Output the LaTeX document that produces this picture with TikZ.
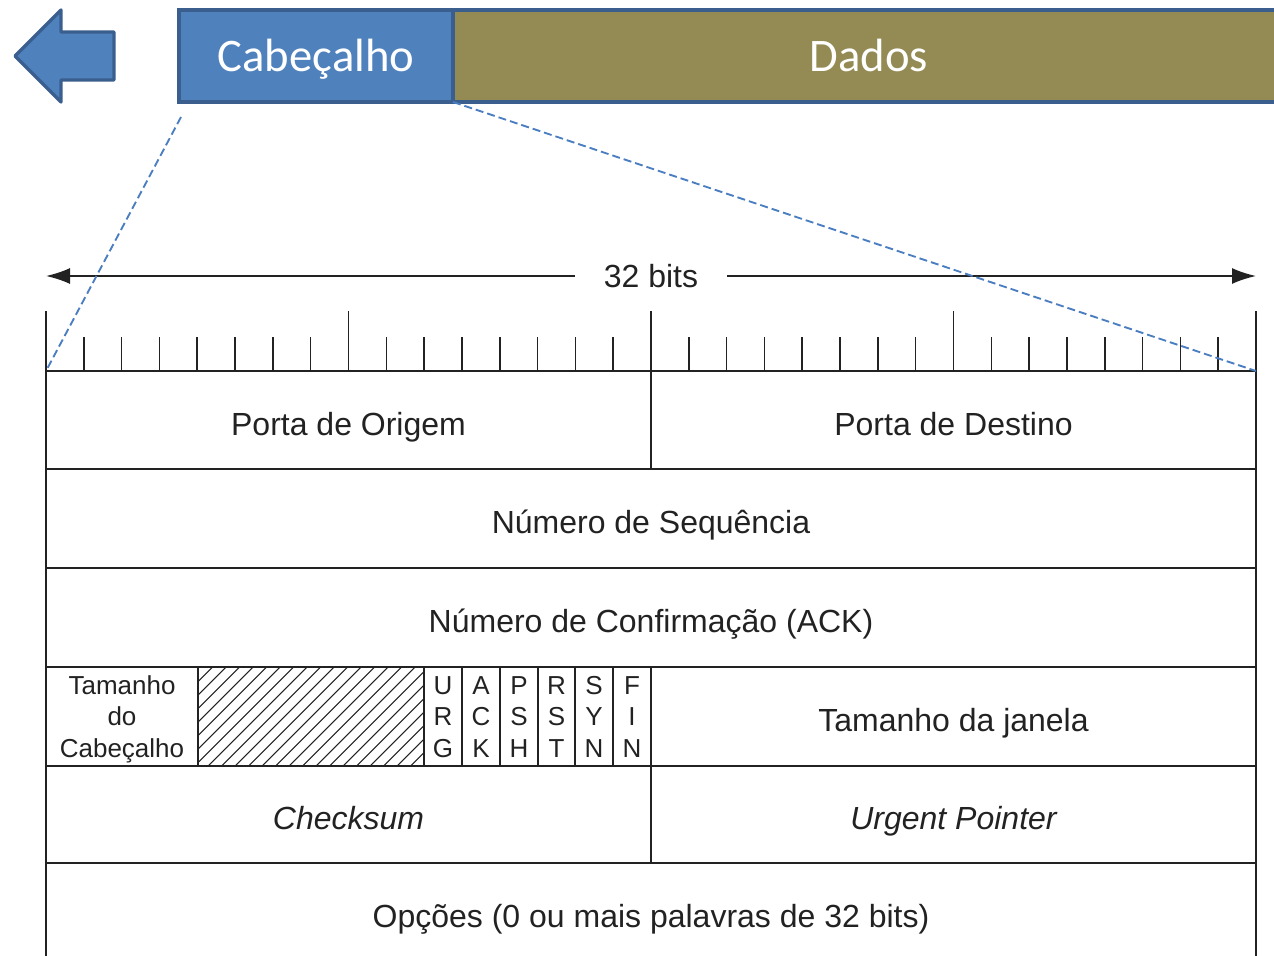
\documentclass[tikz,border=0pt]{standalone}
\usepackage{fontspec}
\setmainfont{Liberation Sans}
\newfontfamily\calib{Carlito}
\usetikzlibrary{arrows.meta}
\definecolor{hdrblue}{HTML}{4F81BD}
\definecolor{hdrline}{HTML}{3A5F8E}
\definecolor{olive}{HTML}{948A54}
\definecolor{ink}{HTML}{222222}
\definecolor{dashblue}{HTML}{4A7EC0}
\tikzset{
  bar/.style={draw=hdrline, line width=3pt, text=white, font=\calib\fontsize{35}{40}\selectfont},
  bartext/.style={text=white, font=\calib\fontsize{35}{40}\selectfont, inner sep=0pt, text height=22.5pt, text depth=0pt},
  grid/.style={draw=ink, line width=1.7pt},
  tick/.style={draw=ink, line width=1.2pt},
  lbl/.style={text=ink, font=\fontsize{24}{28}\selectfont, inner sep=0pt, text height=17.2pt, text depth=0pt},
  small/.style={text=ink, font=\fontsize{19.5}{22}\selectfont, inner sep=0pt, text height=14pt, text depth=0pt},
  zoomline/.style={draw=dashblue, line width=1.4pt, dash pattern=on 6pt off 3pt},
  dimarrow/.style={draw=ink, line width=1.3pt, -{Latex[length=18pt,width=12pt]}}
}
\begin{document}
\begin{tikzpicture}[x=0.75pt,y=-0.75pt]
\useasboundingbox (0,0) rectangle (1274,956);
% left arrow
\draw[bar, line width=2.5pt, fill=hdrblue, line join=round] (15,56) -- (61,10) -- (61,32) -- (114,32) -- (114,80) -- (61,80) -- (61,102) -- cycle;
% header bar
\path[bar, fill=olive] (453,10) rectangle (1280,102);
\node[bartext] (dados) at (869,57) {Dados};
\path[bar, fill=hdrblue] (179,10) rectangle (453,102);
\node[bartext] (cab) at (316,57) {Cabeçalho};
\coordinate (cabsw) at (453,102);
\coordinate (cabst) at (181,117);
% 32 bits arrow
\node[lbl] (bits) at (651,276) {32 bits};
\coordinate (al) at (46,276);
\coordinate (ar) at (1256,276);
\draw[dimarrow] (575,276) -- (al);
\draw[dimarrow] (727,276) -- (ar);
% ticks
\foreach \i in {1,...,31} {
  \pgfmathsetmacro{\xx}{46+\i*37.8125}
  \draw[tick] (\xx,337) -- (\xx,371);
}
\foreach \xx in {348.5,651,953.5} {\draw[tick] (\xx,311) -- (\xx,371);}
% grid
\draw[grid] (46,311) -- (46,960);
\draw[grid] (1256,311) -- (1256,960);
\foreach \yy in {371,469,568,667,766,863} {\draw[grid] (46,\yy) -- (1256,\yy);}
\draw[grid] (651,371) -- (651,469);
\draw[grid] (651,667) -- (651,863);
\foreach \xx in {198,424,462,500,538,575,613} {\draw[grid, line width=1.4pt] (\xx,667) -- (\xx,766);}
% hatch
\begin{scope}
\clip (198,667) rectangle (424,766);
\foreach \k in {0,...,26} {\draw[ink, line width=0.8pt] (100+\k*13.5,766) -- ++(110,-110);}
\end{scope}
% labels
\node[lbl] (po) at (348.5,424) {Porta de Origem};
\node[lbl] (pd) at (953.5,424) {Porta de Destino};
\node[lbl] (seq) at (651,522) {Número de Sequência};
\node[lbl] (ack) at (651,621) {Número de Confirmação (ACK)};
\node[small] (t1) at (122,685) {Tamanho};
\node[small] (t2) at (122,716) {do};
\node[small] (t3) at (122,748) {Cabeçalho};
\foreach \n/\xx/\a/\b/\c in {urg/443/U/R/G, ackf/481/A/C/K, psh/519/P/S/H, rst/556.5/R/S/T, syn/594/S/Y/N, fin/632/F/I/N} {
  \node[small] (\n1) at (\xx,685) {\a};
  \node[small] (\n2) at (\xx,716) {\b};
  \node[small] (\n3) at (\xx,748) {\c};
}
\node[lbl] (jan) at (953.5,720) {Tamanho da janela};
\node[lbl, font=\itshape\fontsize{24}{28}\selectfont] (chk) at (348.5,818) {Checksum};
\node[lbl, font=\itshape\fontsize{24}{28}\selectfont] (urp) at (953.5,818) {Urgent Pointer};
\node[lbl] (opc) at (651,916) {Opções (0 ou mais palavras de 32 bits)};
% zoom lines
\coordinate (tl) at (46,371);
\coordinate (tr) at (1256,371);
\draw[zoomline] (cabst) -- (tl);
\draw[zoomline] (cabsw) -- (tr);
\end{tikzpicture}
\end{document}
